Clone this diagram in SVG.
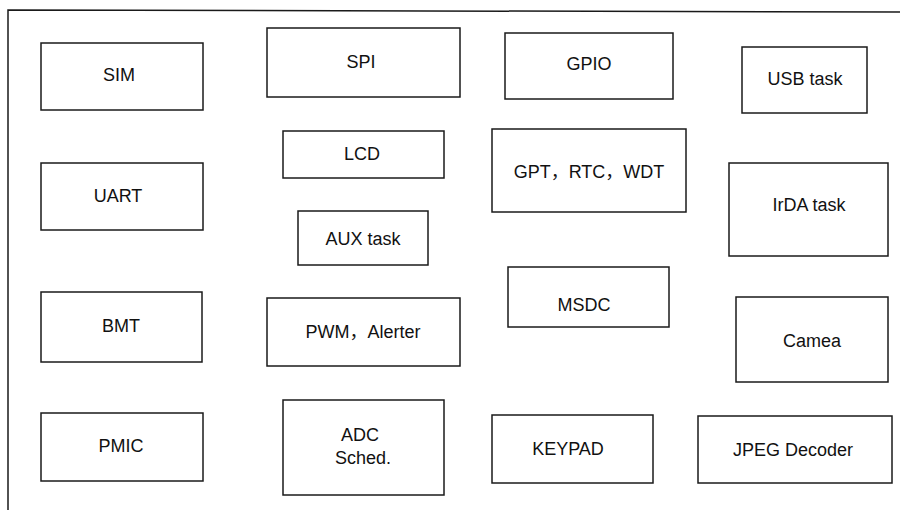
<svg xmlns="http://www.w3.org/2000/svg" width="900" height="510" viewBox="0 0 900 510">
<style>
.box{fill:#fff;stroke:#1a1a1a;stroke-width:1.5}
.lbl{font-family:"Liberation Sans",Arial,"Noto Sans CJK SC",sans-serif;font-size:18px;fill:#111;text-anchor:middle}
.frame{fill:none;stroke:#1a1a1a;stroke-width:1.5}
</style>
<rect width="900" height="510" fill="#fff"/>
<path class="frame" d="M8,510 L8,10 L900,12"/>
<g id="connectors"></g>
<g id="sim"><rect class="box" x="41" y="43" width="162" height="67"/><text class="lbl" x="119" y="81">SIM</text></g>
<g id="spi"><rect class="box" x="267" y="28" width="193" height="69"/><text class="lbl" x="361" y="68">SPI</text></g>
<g id="gpio"><rect class="box" x="505" y="33" width="168" height="66"/><text class="lbl" x="589" y="70">GPIO</text></g>
<g id="usb"><rect class="box" x="742" y="47" width="125" height="66"/><text class="lbl" x="805" y="85">USB task</text></g>
<g id="lcd"><rect class="box" x="283" y="131" width="161" height="47"/><text class="lbl" x="362" y="160">LCD</text></g>
<g id="uart"><rect class="box" x="41" y="163" width="162" height="67"/><text class="lbl" x="118" y="202">UART</text></g>
<g id="gpt"><rect class="box" x="492" y="129" width="194" height="83"/><text class="lbl" x="589" y="178">GPT，RTC，WDT</text></g>
<g id="irda"><rect class="box" x="729" y="163" width="159" height="93"/><text class="lbl" x="809" y="211">IrDA task</text></g>
<g id="aux"><rect class="box" x="298" y="211" width="130" height="54"/><text class="lbl" x="363" y="245">AUX task</text></g>
<g id="msdc"><rect class="box" x="508" y="267" width="161" height="60"/><text class="lbl" x="584" y="311">MSDC</text></g>
<g id="bmt"><rect class="box" x="41" y="292" width="161" height="70"/><text class="lbl" x="121" y="332">BMT</text></g>
<g id="pwm"><rect class="box" x="267" y="298" width="193" height="68"/><text class="lbl" x="363" y="338">PWM，Alerter</text></g>
<g id="camea"><rect class="box" x="736" y="297" width="152" height="85"/><text class="lbl" x="812" y="347">Camea</text></g>
<g id="pmic"><rect class="box" x="41" y="413" width="162" height="68"/><text class="lbl" x="121" y="452">PMIC</text></g>
<g id="adc"><rect class="box" x="283" y="400" width="161" height="95"/><text class="lbl" x="360" y="441">ADC</text><text class="lbl" x="363" y="464">Sched.</text></g>
<g id="keypad"><rect class="box" x="492" y="415" width="161" height="68"/><text class="lbl" x="568" y="455">KEYPAD</text></g>
<g id="jpeg"><rect class="box" x="698" y="416" width="194" height="67"/><text class="lbl" x="793" y="456">JPEG Decoder</text></g>
</svg>
